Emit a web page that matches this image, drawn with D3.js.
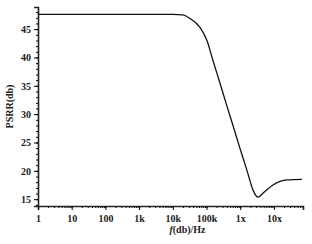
<!DOCTYPE html>
<html>
<head>
<meta charset="utf-8">
<script src="https://cdn.jsdelivr.net/npm/d3@7"></script>
<style>
  body { margin: 0; background: #fff; }
  text { font-family: "Liberation Serif", "DejaVu Serif", serif; fill: #222; }
</style>
</head>
<body>
<svg id="chart" width="312" height="244"></svg>
<script>
"use strict"

// frequency (Hz) and PSRR (db)
const freq = [1, 10, 100, 1e3, 1e4, 2e4, 3.2e4, 6.4e4, 1.03e5, 1.55e5, 2.5e5, 4.0e5, 6.1e5, 9.8e5, 1.6e6, 2.4e6, 3.4e6, 4.8e6, 9.4e6, 2.4e7, 6.8e7]
const psrr = [47.6, 47.6, 47.6, 47.6, 47.6, 47.5, 46.9, 45.3, 43.0, 39.5, 35.5, 31.5, 28.0, 24.0, 20.0, 16.6, 15.35, 16.1, 17.5, 18.4, 18.5]

const xTicks = [1, 10, 100, 1e3, 1e4, 1e5, 1e6, 1e7]
const xTickLabels = ["1", "10", "100", "1k", "10k", "100k", "1x", "10x"]
const yTicks = [15, 20, 25, 30, 35, 40, 45]

const svg = d3.select("#chart")
const margin = { top: 7, right: 9, bottom: 38, left: 38 }
const width = 312 - margin.left - margin.right
const height = 244 - margin.top - margin.bottom

const x = d3.scaleLog().domain([1, 7.3e7]).range([0, width])
const y = d3.scaleLinear().domain([13.8, 48.9]).range([height, 0])

const g = svg.append("g").attr("transform", `translate(${margin.left},${margin.top})`)

// minor ticks, dense like the scan
const xMinor = []
for (let d = 1; d < 1e8; d *= 10) {
    for (let k = 1; k < 10; k++) { if (d * k <= 7.3e7) xMinor.push(d * k) }
}
g.append("g")
    .attr("transform", `translate(0,${height})`)
    .call(d3.axisBottom(x).tickValues(xMinor).tickSize(2).tickFormat(""))
    .call(a => a.select(".domain").remove())
const yMinor = d3.range(14, 49, 1)
g.append("g")
    .call(d3.axisLeft(y).tickValues(yMinor).tickSize(2).tickFormat(""))
    .call(a => a.select(".domain").remove())

const xAxis = g.append("g")
    .attr("transform", `translate(0,${height})`)
    .call(d3.axisBottom(x).tickValues(xTicks).tickSize(4)
        .tickFormat((d, i) => xTickLabels[i]))
xAxis.select(".domain").attr("stroke-width", 1.6).attr("stroke", "#222")
xAxis.selectAll("text").attr("font-size", 10).attr("font-weight", "bold").attr("dy", "0.9em")

const yAxis = g.append("g")
    .call(d3.axisLeft(y).tickValues(yTicks).tickSize(4))
yAxis.select(".domain").attr("stroke-width", 1.6).attr("stroke", "#222")
yAxis.selectAll("text").attr("font-size", 10).attr("font-weight", "bold")

// curve
const line = d3.line()
    .x((d, i) => x(freq[i]))
    .y(d => y(d))
    .curve(d3.curveMonotoneX)
g.append("path")
    .datum(psrr)
    .attr("fill", "none")
    .attr("stroke", "#111")
    .attr("stroke-width", 1.3)
    .attr("d", line)

// axis titles
svg.append("text")
    .attr("transform", `translate(13,${margin.top + height / 2}) rotate(-90)`)
    .attr("text-anchor", "middle")
    .attr("font-size", 10)
    .attr("font-weight", "bold")
    .text("PSRR(db)")

const xt = svg.append("text")
    .attr("x", margin.left + width / 2 + 17)
    .attr("y", 233)
    .attr("text-anchor", "middle")
    .attr("font-size", 10)
    .attr("font-weight", "bold")
xt.append("tspan").attr("font-style", "italic").text("f")
xt.append("tspan").text("(db)/Hz")
</script>
</body>
</html>
